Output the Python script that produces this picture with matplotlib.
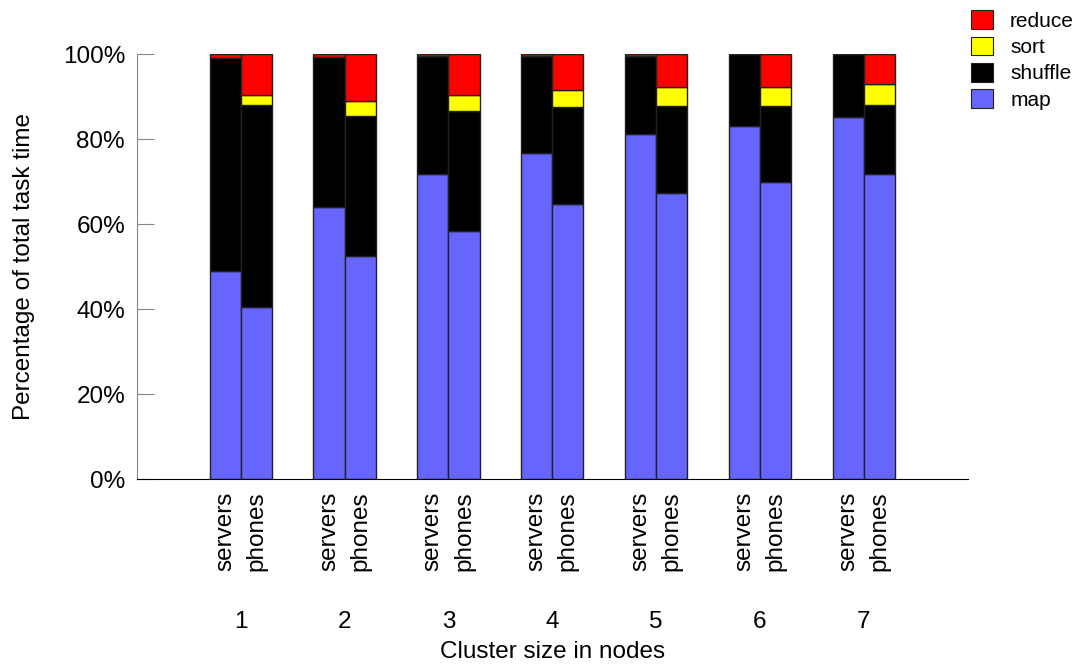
import matplotlib
matplotlib.use("Agg")
import matplotlib.pyplot as plt
from matplotlib.patches import Patch
import matplotlib.transforms as mtrans
import numpy as np

plt.rcParams['font.family'] = ['Liberation Sans', 'DejaVu Sans']

clusters = ['1', '2', '3', '4', '5', '6', '7']
systems = ['servers', 'phones']
phases = ['map', 'shuffle', 'sort', 'reduce']

# stage percentages
servers_map = [48.9, 64.0, 71.8, 76.7, 81.1, 83.1, 85.2]
servers_shuffle = [50.1, 35.3, 27.7, 22.8, 18.4, 16.9, 14.8]
servers_sort = [0, 0, 0, 0, 0, 0, 0]
servers_reduce = [1.0, 0.7, 0.5, 0.5, 0.5, 0.0, 0.0]

phones_map = [40.5, 52.5, 58.4, 64.7, 67.3, 69.8, 71.9]
phones_shuffle = [47.5, 33.0, 28.3, 22.8, 20.5, 18.0, 16.1]
phones_sort = [2.4, 3.5, 3.7, 4.0, 4.5, 4.4, 4.9]
phones_reduce = [9.6, 11.0, 9.6, 8.5, 7.7, 7.8, 7.1]

colors = {'map': '#6666ff', 'shuffle': '#000000', 'sort': '#ffff00', 'reduce': '#ff0000'}

fig = plt.figure(figsize=(10.86, 6.69), dpi=100)
ax = fig.add_axes([0.126, 0.284, 0.765, 0.635])

x = np.arange(1, len(clusters) + 1)
w = 0.3
series = {
    'servers': [servers_map, servers_shuffle, servers_sort, servers_reduce],
    'phones': [phones_map, phones_shuffle, phones_sort, phones_reduce],
}
offsets = {'servers': -w / 2, 'phones': w / 2}
for s in systems:
    bottom = np.zeros(len(clusters))
    for ph, vals in zip(phases, series[s]):
        vals = np.array(vals)
        ax.bar(x + offsets[s], vals, w, bottom=bottom, color=colors[ph],
               edgecolor='#222222', linewidth=1.0)
        bottom += vals

FS = 17.5
ax.set_xlim(0, 8)
ax.set_ylim(0, 100)
ax.set_yticks([0, 20, 40, 60, 80, 100])
ax.set_yticklabels([f'{v}%' for v in [0, 20, 40, 60, 80, 100]], fontsize=FS)
ax.tick_params(axis='y', direction='in', length=12, color='#888888', pad=8.5)

ticks = []
labels = []
for xi in x:
    ticks += [xi - w / 2, xi + w / 2]
    labels += systems
ax.set_xticks(ticks)
ax.set_xticklabels(labels, rotation=90, fontsize=FS, va='top')
ax.tick_params(axis='x', length=0, pad=9)

for spine in ['top', 'right']:
    ax.spines[spine].set_visible(False)
ax.spines['left'].set_color('#888888')
ax.spines['bottom'].set_color('#000000')

trans = mtrans.blended_transform_factory(ax.transData, ax.transAxes)
for xi, c in zip(x, clusters):
    ax.text(xi, -0.336, c, transform=trans, ha='center', va='center', fontsize=FS)
ax.text(0.5, -0.408, 'Cluster size in nodes', transform=ax.transAxes,
        ha='center', va='center', fontsize=FS)

ax.text(-0.136, 0.5, 'Percentage of total task time', transform=ax.transAxes,
        rotation=90, ha='center', va='center', fontsize=FS)

handles = [Patch(facecolor=colors[p], edgecolor='#222222', linewidth=0.8, label=p)
           for p in ['reduce', 'sort', 'shuffle', 'map']]
fig.legend(handles=handles, loc='upper left', bbox_to_anchor=(0.886, 0.997),
           frameon=False, fontsize=15, handlelength=1.1, handleheight=1.0,
           handletextpad=0.8, labelspacing=0.28, borderaxespad=0)

fig.savefig('out.png', dpi=100)
